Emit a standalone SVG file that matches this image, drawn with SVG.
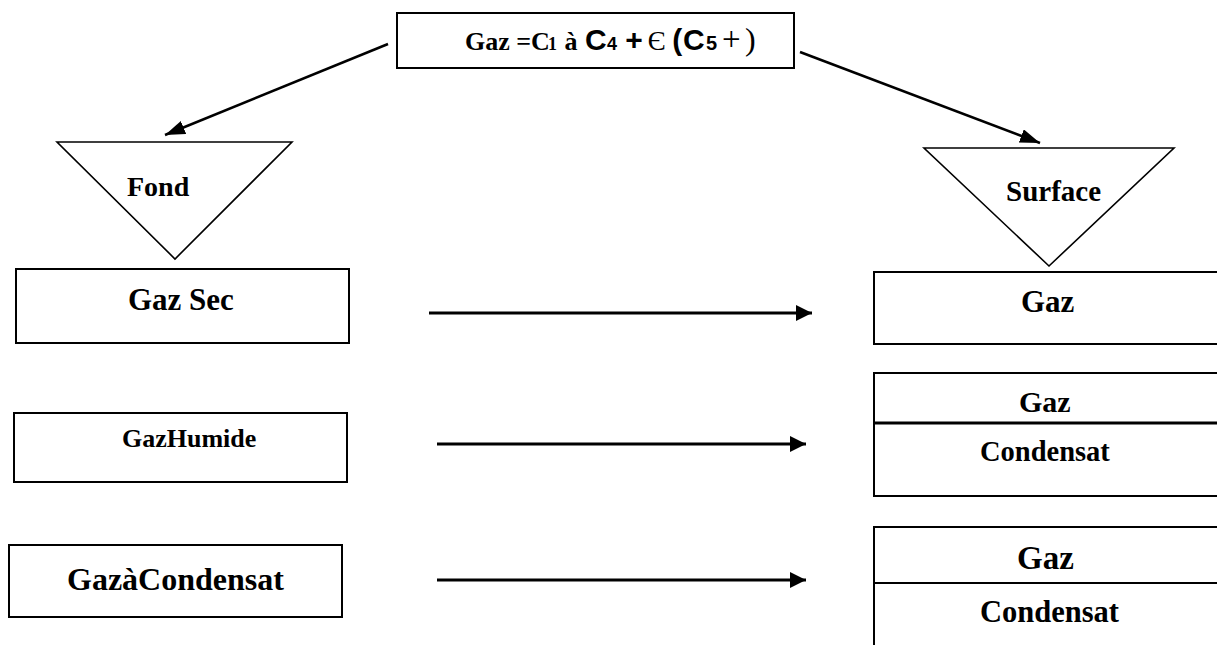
<svg xmlns="http://www.w3.org/2000/svg" width="1217" height="645" viewBox="0 0 1217 645">
<style>
.box{fill:#fff;stroke:#000;stroke-width:2}
.tri{fill:#fff;stroke:#000;stroke-width:1.6}
.t{font-family:"Liberation Serif","Times New Roman",serif;font-weight:bold;fill:#000}
.a{font-family:"Liberation Sans",Arial,sans-serif;font-weight:bold}
.n{font-weight:normal}
.conn{stroke:#000;fill:none}
</style>
<defs>
<marker id="ah" markerUnits="userSpaceOnUse" markerWidth="18" markerHeight="16" refX="16" refY="8" orient="auto">
<path d="M0,0 L16,8 L0,16 z" fill="#000"/>
</marker>
<marker id="ahd" markerUnits="userSpaceOnUse" markerWidth="22" markerHeight="16" refX="20" refY="7" orient="auto">
<path d="M0,0 L20,7 L0,14 z" fill="#000"/>
</marker>
</defs>
<g id="top">
<rect class="box" x="397" y="13" width="397" height="55"/>
<text class="t" y="50" font-size="26"><tspan x="465">Gaz =C</tspan><tspan x="548" font-size="18">1</tspan><tspan x="558" font-size="26"> à</tspan><tspan class="a" x="585" font-size="30">C</tspan><tspan class="a" x="607" font-size="18">4</tspan><tspan class="a" x="617" font-size="30"> +</tspan><tspan class="n" x="641" font-size="27"> Є</tspan><tspan class="a" x="664" font-size="30"> (</tspan><tspan class="a" x="683" font-size="30">C</tspan><tspan class="a" x="706" font-size="20">5</tspan><tspan class="n" x="722" font-size="33">+</tspan><tspan class="n" x="745" font-size="32">)</tspan></text>
</g>
<g id="fond">
<polygon class="tri" points="57,142 292,142 175,259"/>
<text class="t" x="127" y="196" font-size="28">Fond</text>
</g>
<g id="surface">
<polygon class="tri" points="924,148 1174,148 1049,266"/>
<text class="t" x="1006" y="201" font-size="29">Surface</text>
</g>
<g id="gazsec">
<rect class="box" x="16" y="269" width="333" height="74"/>
<text class="t" x="128" y="310" font-size="31">Gaz Sec</text>
</g>
<g id="gazhumide">
<rect class="box" x="14" y="413" width="333" height="69"/>
<text class="t" x="122" y="447" font-size="26">GazHumide</text>
</g>
<g id="gazcondensat">
<rect class="box" x="9" y="545" width="333" height="72"/>
<text class="t" x="67" y="590" font-size="32">GazàCondensat</text>
</g>
<g id="r1">
<rect class="box" x="874" y="272" width="360" height="72"/>
<text class="t" x="1021" y="312" font-size="31">Gaz</text>
</g>
<g id="r2">
<rect class="box" x="874" y="373" width="360" height="123"/>
<line x1="874" y1="423" x2="1217" y2="423" stroke="#000" stroke-width="3"/>
<text class="t" x="1019" y="412" font-size="30">Gaz</text>
<text class="t" x="980" y="461" font-size="28.5">Condensat</text>
</g>
<g id="r3">
<rect class="box" x="874" y="527" width="360" height="140"/>
<line x1="874" y1="583" x2="1217" y2="583" stroke="#000" stroke-width="2"/>
<text class="t" x="1017" y="569" font-size="33">Gaz</text>
<text class="t" x="980" y="622" font-size="30.5">Condensat</text>
</g>
<g id="connectors">
<line class="conn" x1="388" y1="44" x2="165" y2="135" stroke-width="2.5" marker-end="url(#ahd)"/>
<line class="conn" x1="800" y1="52" x2="1040" y2="143" stroke-width="2.5" marker-end="url(#ahd)"/>
<line class="conn" x1="429" y1="313" x2="812" y2="313" stroke-width="3" marker-end="url(#ah)"/>
<line class="conn" x1="437" y1="444" x2="806" y2="444" stroke-width="3" marker-end="url(#ah)"/>
<line class="conn" x1="437" y1="580" x2="806" y2="580" stroke-width="3" marker-end="url(#ah)"/>
</g>
</svg>
